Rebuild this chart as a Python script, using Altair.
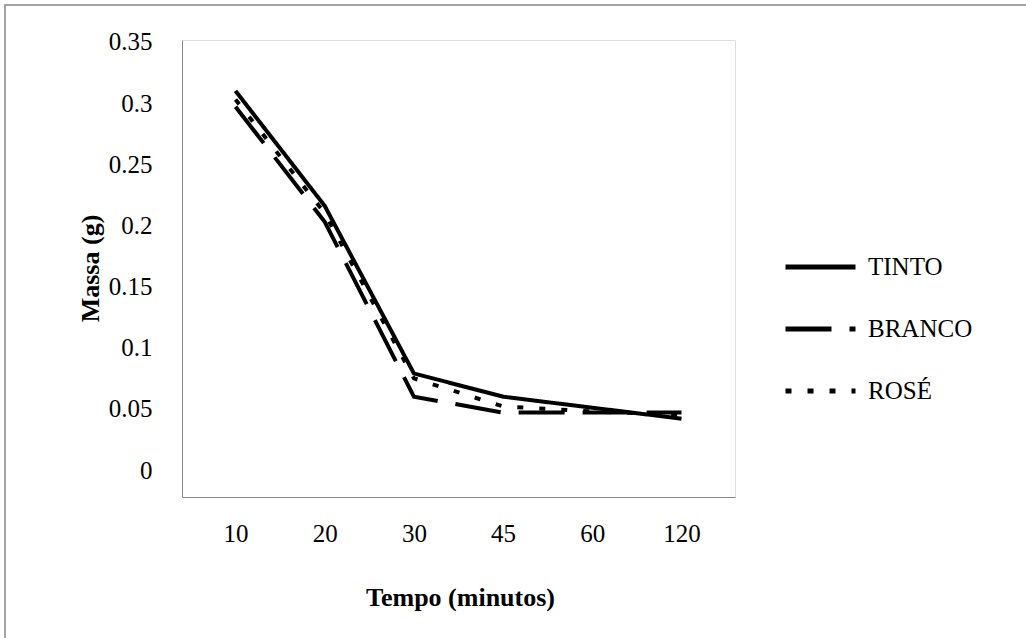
import altair as alt
import pandas as pd

tempos = ["10", "20", "30", "45", "60", "120"]
series = ["TINTO", "BRANCO", "ROSÉ"]
tinto = [0.310, 0.216, 0.079, 0.060, 0.051, 0.042]
branco = [0.297, 0.203, 0.060, 0.047, 0.047, 0.047]
rose = [0.303, 0.210, 0.075, 0.052, 0.048, 0.045]
y_ticks = [0, 0.05, 0.1, 0.15, 0.2, 0.25, 0.3, 0.35]

rows = []
for name, vals in zip(series, [tinto, branco, rose]):
    for t, v in zip(tempos, vals):
        rows.append({"tempo": t, "massa": v, "serie": name})
df = pd.DataFrame(rows)

FONT = "Liberation Serif"
GRAY = "#888888"

lines = alt.Chart(df).mark_line(color="black", strokeWidth=4, strokeCap="butt").encode(
    x=alt.X(
        "tempo:N",
        sort=tempos,
        scale=alt.Scale(type="point", padding=0.6),
        axis=alt.Axis(
            title="Tempo (minutos)",
            labelAngle=0,
            ticks=False,
            domainColor=GRAY,
            domainWidth=1,
            labelFont=FONT,
            labelFontSize=25,
            labelColor="black",
            labelPadding=24,
            titleFont=FONT,
            titleFontSize=26,
            titleFontWeight="bold",
            titleColor="black",
            titleX=278,
            titleY=108,
            titleBaseline="alphabetic",
        ),
    ),
    y=alt.Y(
        "massa:Q",
        scale=alt.Scale(domain=[-0.022, 0.3516], nice=False, zero=False),
        axis=alt.Axis(
            title="Massa (g)",
            values=y_ticks,
            format=".2~f",
            ticks=False,
            grid=False,
            domainColor=GRAY,
            domainWidth=1,
            labelFont=FONT,
            labelFontSize=25,
            labelColor="black",
            labelPadding=30,
            titleFont=FONT,
            titleFontSize=26,
            titleFontWeight="bold",
            titleColor="black",
            titleX=-92,
            titleY=228,
            titleBaseline="middle",
            titleAlign="center",
        ),
    ),
    strokeDash=alt.StrokeDash(
        "serie:N",
        scale=alt.Scale(domain=series, range=[[1, 0], [46, 18], [6, 16]]),
        legend=alt.Legend(
            title=None,
            orient="none",
            legendX=601,
            legendY=217,
            symbolType="stroke",
            symbolSize=4900,
            symbolStrokeWidth=5,
            symbolStrokeColor="black",
            clipHeight=20,
            rowPadding=37,
            labelFont=FONT,
            labelFontSize=25,
            labelColor="black",
            labelOffset=10,
            padding=0,
        ),
    ),
    detail="serie:N",
)

frame = alt.Chart(pd.DataFrame({"k": [0]})).mark_rect(
    fill=None, stroke=GRAY, strokeWidth=1.5, clip=False
).encode(
    x=alt.value(-177),
    x2=alt.value(850),
    y=alt.value(-35),
    y2=alt.value(600),
)

chart = alt.layer(frame, lines).properties(
    width=553,
    height=457,
    autosize=alt.AutoSizeParams(type="none"),
    padding={"left": 182, "top": 40, "right": 291, "bottom": 141},
).configure_view(stroke=None).configure(background="white")

chart.save("out.html", embed_options={"renderer": "svg", "actions": False})
